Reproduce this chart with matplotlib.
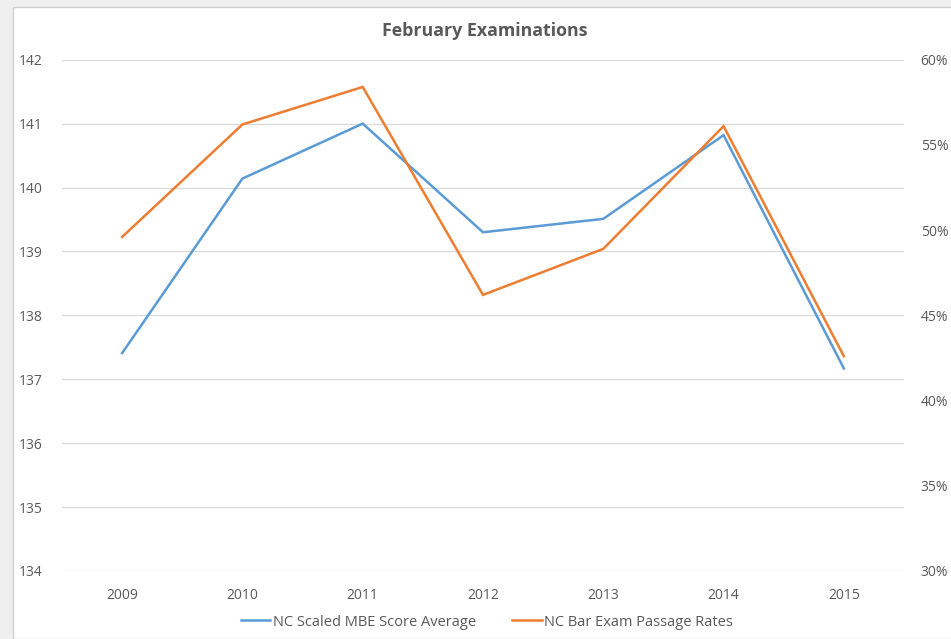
#!/usr/bin/env python3
"""
February Examinations: NC scaled MBE average vs NC bar exam passage rate
"""

import matplotlib
matplotlib.use('Agg')
import matplotlib.pyplot as plt
from matplotlib.patches import Rectangle
from matplotlib.ticker import FuncFormatter

# data
years = ['2009', '2010', '2011', '2012', '2013', '2014', '2015']
mbe_score = [137.41, 140.14, 141.0, 139.30, 139.51, 140.82, 137.17]
pass_rate = [0.496, 0.562, 0.584, 0.462, 0.489, 0.561, 0.426]

left_ticks = [134, 135, 136, 137, 138, 139, 140, 141, 142]
right_ticks = [0.30, 0.35, 0.40, 0.45, 0.50, 0.55, 0.60]

BLUE = '#5B9BD5'
ORANGE = '#ED7D31'
TEXT = '#595959'
GRID = '#D9D9D9'

plt.rcParams['font.family'] = ['Open Sans', 'DejaVu Sans']

fig = plt.figure(figsize=(9.51, 6.39), dpi=100)
fig.patch.set_facecolor('#EFEFEF')
# white chart area with thin frame
fig.patches.append(Rectangle((13 / 951, 0), 1, 1 - 7 / 639, transform=fig.transFigure,
                             facecolor='white', edgecolor='#D0D0D0', linewidth=1, zorder=-10))

ax1 = fig.add_axes([62 / 951, 1 - 571 / 639, (904 - 62) / 951, (571 - 59.7) / 639])
ax1.set_facecolor('none')
ax2 = ax1.twinx()

x = range(len(years))
l1, = ax1.plot(x, mbe_score, color=BLUE, linewidth=1.8, label='NC Scaled MBE Score Average',
               solid_joinstyle='miter')
l2, = ax2.plot(x, pass_rate, color=ORANGE, linewidth=1.8, label='NC Bar Exam Passage Rates',
               solid_joinstyle='miter')

ax1.set_xlim(-0.5, len(years) - 0.5)
ax1.set_ylim(134, 142)
ax2.set_ylim(0.30, 0.60)
ax1.set_xticks(list(x))
ax1.set_xticklabels(years)
ax1.set_yticks(left_ticks)
ax2.set_yticks(right_ticks)
ax2.yaxis.set_major_formatter(FuncFormatter(lambda v, _: f'{v * 100:.0f}%'))

ax1.grid(axis='y', color=GRID, linewidth=0.9)
ax1.set_axisbelow(True)
for a in (ax1, ax2):
    for s in a.spines.values():
        s.set_visible(False)
    a.tick_params(length=0, labelsize=10, labelcolor=TEXT)
ax1.tick_params(axis='y', pad=14)
ax1.tick_params(axis='x', pad=12)
ax2.tick_params(axis='y', pad=12)

fig.text(485 / 951, 1 - 31 / 639, 'February Examinations', ha='center', va='center',
         fontsize=12.8, fontweight='bold', color=TEXT)

fig.legend(handles=[l1, l2], loc='center', bbox_to_anchor=(487 / 951, 1 - 622 / 639),
           ncol=2, frameon=False, fontsize=10.5, labelcolor=TEXT, handlelength=2.0,
           handletextpad=0.2, columnspacing=2.5)

plt.savefig('out.png', dpi=100, facecolor=fig.get_facecolor())
plt.close()
